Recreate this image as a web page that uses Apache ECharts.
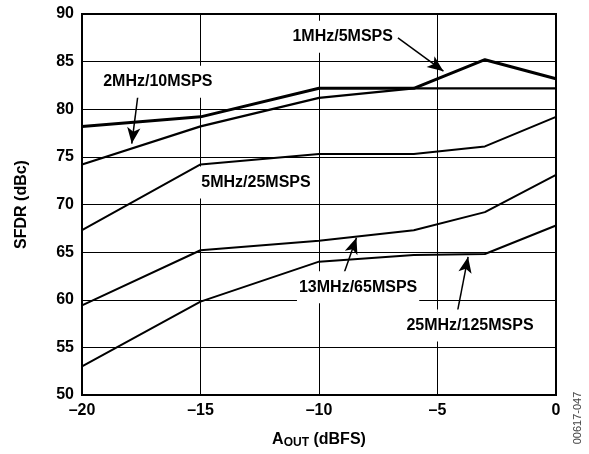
<!DOCTYPE html>
<html><head><meta charset="utf-8">
<script src="https://cdn.jsdelivr.net/npm/echarts@6/dist/echarts.min.js"></script>
<style>html,body{margin:0;padding:0;background:#fff}#c{width:589px;height:454px}</style>
</head><body><div id="c"></div>
<script>
const xValues = [-20, -15, -10, -6, -3, 0];
const s1MHz = [78.2, 79.2, 82.2, 82.2, 85.2, 83.2];
const s2MHz = [74.2, 78.2, 81.2, 82.2, 82.2, 82.2];
const s5MHz = [67.3, 74.2, 75.3, 75.3, 76.1, 79.2];
const s13MHz = [59.4, 65.2, 66.2, 67.3, 69.2, 73.1];
const s25MHz = [53.0, 59.8, 64.0, 64.7, 64.8, 67.8];
const xTicks = [-20, -15, -10, -5, 0];
const yTicks = [50, 55, 60, 65, 70, 75, 80, 85, 90];
const labelTexts = ['1MHz/5MSPS', '2MHz/10MSPS', '5MHz/25MSPS', '13MHz/65MSPS', '25MHz/125MSPS'];
const labelPos = [[-9.0, 87.6], [-16.8, 82.9], [-12.66, 72.3], [-8.35, 61.3], [-3.63, 57.3]];
const arrows = [
  [[-6.67, 87.5], [-4.75, 84.0]],
  [[-17.6, 82.25], [-17.9, 76.4]],
  [[-8.99, 62.46], [-8.42, 66.5]],
  [[-4.18, 58.5], [-3.71, 64.5]]
];

const FONT = '"Liberation Sans", Arial, sans-serif';
const chart = echarts.init(document.getElementById('c'), null, {renderer: 'canvas'});
function mk(name, arr, w) {
  return {name, type: 'line', data: xValues.map((x, i) => [x, arr[i]]), symbol: 'none',
    lineStyle: {color: '#000', width: w}, z: 3};
}
const series = [mk('1MHz', s1MHz, 3), mk('2MHz', s2MHz, 2.2), mk('5MHz', s5MHz, 2),
  mk('13MHz', s13MHz, 2), mk('25MHz', s25MHz, 2)];
series[0].markLine = {
  silent: true, symbol: ['none', 'arrow'], symbolSize: [10, 16],
  lineStyle: {color: '#000', width: 1.5, type: 'solid'}, label: {show: false},
  data: arrows.map(a => [{coord: a[0]}, {coord: a[1]}])
};
chart.setOption({
  animation: false,
  backgroundColor: '#fff',
  grid: {left: 82, right: 33, top: 14, bottom: 58, show: true, borderColor: '#000', borderWidth: 2, backgroundColor: 'transparent'},
  xAxis: {type: 'value', min: -20, max: 0, interval: 5,
    axisLine: {show: false}, axisTick: {show: false},
    splitLine: {show: true, lineStyle: {color: '#000', width: 1}},
    axisLabel: {color: '#000', fontFamily: FONT, fontWeight: 'bold', fontSize: 16, margin: 8,
      formatter: v => (v < 0 ? '\u2013' + Math.abs(v) : String(v))},
    name: 'A{sub|OUT} (dBFS)', nameLocation: 'middle', nameGap: 35,
    nameTextStyle: {color: '#000', fontFamily: FONT, fontWeight: 'bold', fontSize: 16,
      rich: {sub: {fontFamily: FONT, fontWeight: 'bold', fontSize: 12, verticalAlign: 'bottom', padding: [7, 0, 0, 0]}}}
  },
  yAxis: {type: 'value', min: 50, max: 90, interval: 5,
    axisLine: {show: false}, axisTick: {show: false},
    splitLine: {show: true, lineStyle: {color: '#000', width: 1}},
    axisLabel: {color: '#000', fontFamily: FONT, fontWeight: 'bold', fontSize: 16, margin: 8},
    name: 'SFDR (dBc)', nameLocation: 'middle', nameGap: 52, nameRotate: 90,
    nameTextStyle: {color: '#000', fontFamily: FONT, fontWeight: 'bold', fontSize: 16}
  },
  series
});
const g = labelTexts.map((t, i) => {
  const p = chart.convertToPixel({gridIndex: 0}, labelPos[i]);
  return {type: 'text', x: p[0], y: p[1], z: 10,
    style: {text: t, fill: '#000', font: 'bold 16px ' + FONT, align: 'center', verticalAlign: 'middle',
      backgroundColor: '#fff', padding: [8, 2]}};
});
g.push({type: 'text', x: 578, y: 418, rotation: Math.PI / 2, z: 10,
  style: {text: '00617-047', fill: '#444', font: '11px ' + FONT, align: 'center', verticalAlign: 'middle'}});
chart.setOption({graphic: g});
</script></body></html>
